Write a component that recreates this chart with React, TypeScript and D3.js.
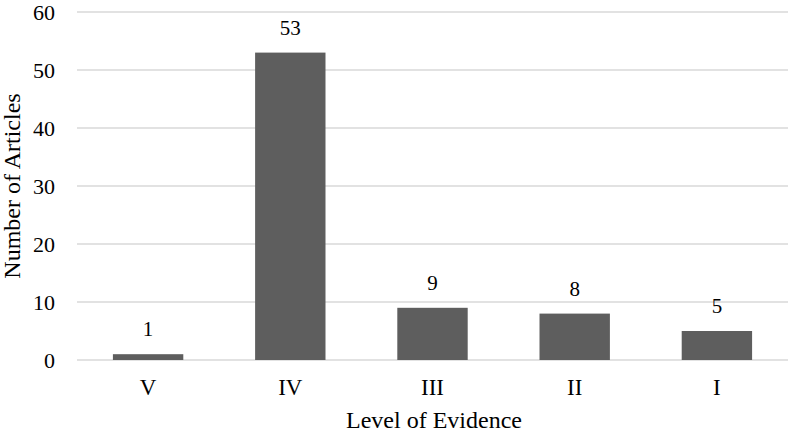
import React from "react";
import * as d3 from "d3";

const categories = ["V", "IV", "III", "II", "I"];
const values = [1, 53, 9, 8, 5];
const yTicks = [0, 10, 20, 30, 40, 50, 60];

const W = 791, H = 432;
const M = { left: 77, right: 3, top: 12, bottom: 72 };
const FONT = "'Liberation Serif', 'Times New Roman', serif";

export default function App() {
  const x = d3.scaleBand().domain(categories).range([M.left, W - M.right]).paddingInner(0.505).paddingOuter(0.2525);
  const y = d3.scaleLinear().domain([0, 60]).range([H - M.bottom, M.top]);
  return (
    <svg width={W} height={H} style={{ position: "absolute", left: 0, top: 0, background: "#fff" }}>
      {yTicks.map((t) => (
        <g key={t}>
          <line x1={M.left} x2={W - M.right} y1={y(t)} y2={y(t)} stroke="#d9d9d9" strokeWidth={1.5} />
          <text x={55} y={y(t)} dy="0.35em" textAnchor="end" fontFamily={FONT} fontSize={22} fill="#000">{t}</text>
        </g>
      ))}
      {categories.map((c, i) => (
        <g key={c}>
          <rect x={x(c)} y={y(values[i])} width={x.bandwidth()} height={y(0) - y(values[i])} fill="#5e5e5e" />
          <text x={x(c)! + x.bandwidth() / 2} y={y(values[i]) - 18} textAnchor="middle" fontFamily={FONT} fontSize={21} fill="#000">{values[i]}</text>
          <text x={x(c)! + x.bandwidth() / 2} y={y(0) + 35} textAnchor="middle" fontFamily={FONT} fontSize={23} fill="#000">{c}</text>
        </g>
      ))}
      <text x={434} y={428} textAnchor="middle" fontFamily={FONT} fontSize={24} fill="#000">Level of Evidence</text>
      <text transform={`translate(20, 186) rotate(-90)`} textAnchor="middle" fontFamily={FONT} fontSize={24} fill="#000">Number of Articles</text>
    </svg>
  );
}
